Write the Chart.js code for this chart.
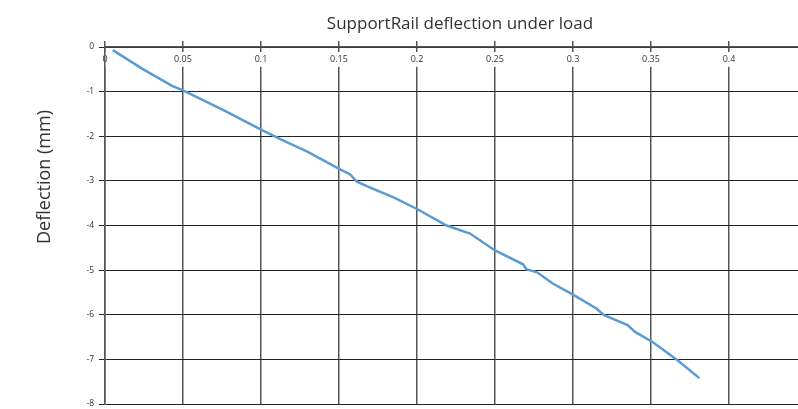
<!DOCTYPE html>
<html>
<head>
<meta charset="utf-8">
<script src="https://cdn.jsdelivr.net/npm/chart.js@4/dist/chart.umd.min.js"></script>
<style>
  html, body { margin: 0; padding: 0; background: #fff; overflow: hidden; }
  #wrap { width: 798px; height: 409px; overflow: hidden; }
</style>
</head>
<body>
<div id="wrap"><canvas id="deflectionChart" width="920" height="409"></canvas></div>
<script>
// Load (x) vs deflection (y)
const loadValues = [0.005, 0.024, 0.043, 0.05, 0.075, 0.1, 0.112, 0.13, 0.151, 0.157, 0.1615, 0.17, 0.185, 0.2, 0.219, 0.234, 0.25, 0.268, 0.27, 0.277, 0.287, 0.3, 0.315, 0.32, 0.335, 0.34, 0.351, 0.36, 0.367, 0.381];
const deflectionValues = [-0.07, -0.49, -0.87, -0.97, -1.4, -1.85, -2.06, -2.35, -2.75, -2.85, -3.02, -3.15, -3.37, -3.63, -4.0, -4.18, -4.56, -4.87, -4.98, -5.05, -5.3, -5.55, -5.86, -6.01, -6.23, -6.39, -6.61, -6.84, -7.02, -7.42];

const fontFamily = "'Open Sans', sans-serif";
const chartTitle = "SupportRail deflection under load";
const yAxisTitle = "Deflection (mm)";

const points = loadValues.map((x, i) => ({ x: x, y: deflectionValues[i] }));

// both titles sit off-centre in the original (canvas is wider than the window), so draw them by hand
const titlesPlugin = {
  id: "titles",
  afterDraw(chart) {
    const c = chart.ctx;
    c.save();
    c.fillStyle = "#333";
    c.textAlign = "center";
    c.font = "17px " + fontFamily;
    c.textBaseline = "alphabetic";
    c.fillText(chartTitle, 460, 29);
    c.translate(45, 177);
    c.rotate(-Math.PI / 2);
    c.font = "18px " + fontFamily;
    c.textBaseline = "middle";
    c.fillText(yAxisTitle, 0, 0);
    c.restore();
  },
};

const ctx = document.getElementById("deflectionChart").getContext("2d");
const deflectionChart = new Chart(ctx, {
  type: "line",
  data: {
    datasets: [
      {
        label: "Deflection",
        data: points,
        borderColor: "#5b9bd5",
        borderWidth: 2.5,
        pointRadius: 0,
        tension: 0,
        fill: false,
      },
    ],
  },
  options: {
    responsive: false,
    animation: false,
    layout: { padding: { top: 35.4, right: 35, bottom: 0, left: 0 } },
    plugins: {
      legend: { display: false },
      tooltip: { enabled: false },
      title: { display: false },
    },
    scales: {
      x: {
        type: "linear",
        position: "top",
        min: 0,
        max: 0.5,
        grid: { color: "#555", lineWidth: 1.5, tickLength: 6 },
        border: { color: "#555", width: 1.5 },
        ticks: {
          stepSize: 0.05,
          mirror: true,
          padding: 7,
          color: "#333",
          font: { family: fontFamily, size: 9 },
          showLabelBackdrop: true,
          backdropColor: "#fff",
          backdropPadding: 2,
          callback: (value) => String(Number(value.toFixed(2))),
        },
        afterFit: (scale) => { scale.height = 11.6; },
      },
      y: {
        type: "linear",
        min: -8,
        max: 0,
        grid: { color: "#222", lineWidth: 1, tickLength: 6 },
        border: { color: "#555", width: 1.5 },
        ticks: {
          stepSize: 1,
          padding: 5,
          color: "#333",
          font: { family: fontFamily, size: 8.5 },
        },
        afterFit: (scale) => {
          scale.width = 105;
          scale.paddingTop = 0;
          scale.paddingBottom = 5;
        },
      },
    },
  },
  plugins: [titlesPlugin],
});
</script>
</body>
</html>
